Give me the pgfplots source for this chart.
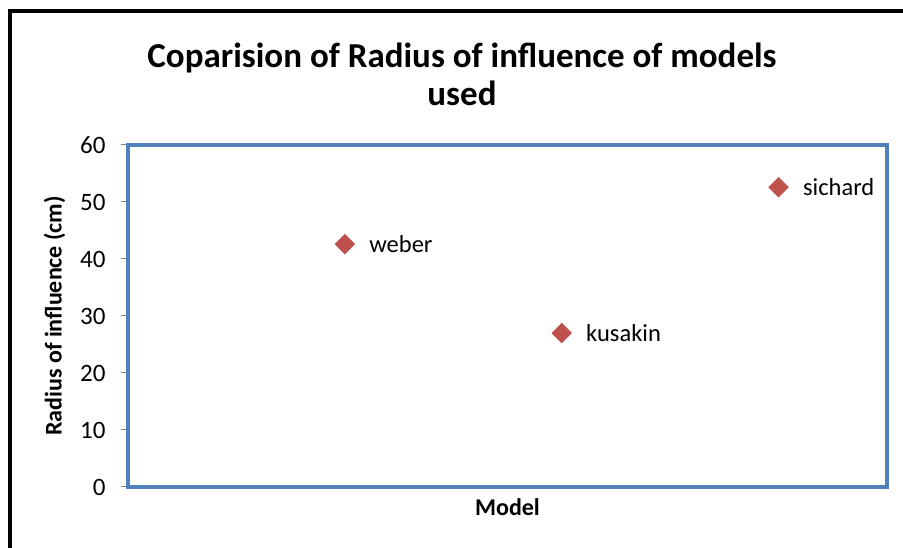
\documentclass[border=0pt]{standalone}
\usepackage{fontspec}
\setmainfont{Carlito}
\usepackage{pgfplots}
\pgfplotsset{compat=1.18}
\definecolor{xlblue}{HTML}{4F81BD}
\definecolor{xlred}{HTML}{C0504D}
\begin{document}
\begin{tikzpicture}[x=1pt,y=1pt]
% picture frame: pixel (px,py) -> (px-128, 487-py)
\useasboundingbox (-128,-61) rectangle (775,487);
\draw[line width=4pt,black] (-117.5,-70) -- (-117.5,476) -- (790,476);
\node[align=center,font=\fontsize{35}{38}\selectfont\bfseries] at (334,413)
  {Coparision of Radius of influence of models\\used};
\begin{axis}[
  at={(0,0)}, anchor=origin,
  scale only axis, width=759pt, height=342pt,
  xmin=0, xmax=3.5, ymin=0, ymax=60,
  xtick=\empty,
  ytick={0,10,...,60},
  tick pos=left, tick align=outside,
  major tick length=7pt,
  every tick/.style={gray, line width=1pt},
  axis line style={xlblue, line width=3.5pt},
  /pgf/number format/assume math mode=true,
  tick label style={font=\fontsize{25}{30}\selectfont},
  yticklabel style={xshift=-12pt},
  xlabel={Model}, ylabel={Radius of influence (cm)},
  label style={font=\fontsize{24}{29}\selectfont\bfseries},
  xlabel style={yshift=-1pt},
  ylabel style={yshift=8pt},
  clip=false,
]
\addplot[only marks, mark=square*, mark size=7pt, xlblue,
  mark options={rotate=45, fill=xlred, draw=xlred},
  nodes near coords, point meta=explicit symbolic,
  every node near coord/.append style={anchor=west, xshift=21pt, black,
    font=\fontsize{24.5}{29}\selectfont}]
  table[meta=label] {
x y label
1 42.6 weber
2 27.0 kusakin
3 52.6 sichard
};
\end{axis}
\end{tikzpicture}
\end{document}
